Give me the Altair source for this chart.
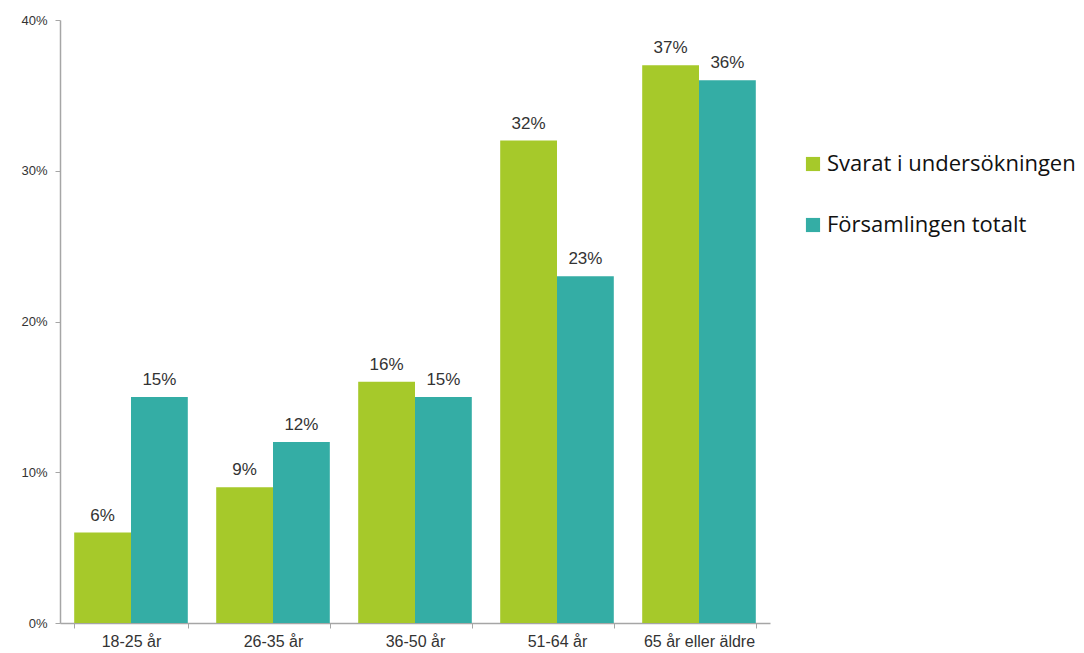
import altair as alt
import pandas as pd

categories = ["18-25 år", "26-35 år", "36-50 år", "51-64 år", "65 år eller äldre"]
series = ["Svarat i undersökningen", "Församlingen totalt"]
svarat = [0.06, 0.09, 0.16, 0.32, 0.37]
totalt = [0.15, 0.12, 0.15, 0.23, 0.36]
colors = ["#A6C92A", "#34ADA5"]

rows = []
for c, a, b in zip(categories, svarat, totalt):
    rows.append({"cat": c, "serie": series[0], "v": a})
    rows.append({"cat": c, "serie": series[1], "v": b})
df = pd.DataFrame(rows)

x = alt.X("cat:N", sort=categories, title=None,
          scale=alt.Scale(paddingInner=0.2, paddingOuter=0.1),
          axis=alt.Axis(labelAngle=0, labelFontSize=16, labelColor="#333",
                        labelFont="Liberation Sans", labelPadding=5,
                        domainColor="#A6A6A6", tickColor="#A6A6A6",
                        tickBand="extent", tickSize=5, domainWidth=1.5, grid=False))
xo = alt.XOffset("serie:N", sort=series, scale=alt.Scale(paddingInner=0))
y = alt.Y("v:Q", title=None,
          scale=alt.Scale(domain=[0, 0.4]),
          axis=alt.Axis(format="%", values=[0, 0.1, 0.2, 0.3, 0.4], grid=False,
                        labelFontSize=13, labelColor="#333", labelFont="Liberation Sans",
                        domainColor="#A6A6A6", tickColor="#A6A6A6", tickSize=5,
                        labelPadding=8, domainWidth=1.5))
color = alt.Color("serie:N", sort=series,
                  scale=alt.Scale(domain=series, range=colors),
                  legend=alt.Legend(title=None, orient="none", legendX=742, legendY=133,
                                    symbolType="square", symbolSize=200,
                                    symbolStrokeWidth=0, labelFontSize=22,
                                    labelFont="Open Sans", labelColor="#111",
                                    rowPadding=39, labelOffset=3, labelLimit=400))

base = alt.Chart(df)
bars = base.mark_bar().encode(x=x, xOffset=xo, y=y, color=color)
text = base.mark_text(dy=-17, fontSize=17, font="Liberation Sans", color="#333").encode(
    x=x, xOffset=xo, y=y, text=alt.Text("v:Q", format=".0%"))

chart = (bars + text).properties(
    width=710, height=603,
    autosize=alt.AutoSizeParams(type="none"),
    padding={"left": 52, "top": 12, "right": 306, "bottom": 30},
).configure(background="white").configure_view(strokeWidth=0, stroke="transparent").configure_axis(grid=False)

chart.save("out.html", embed_options={"renderer": "svg", "actions": False})
